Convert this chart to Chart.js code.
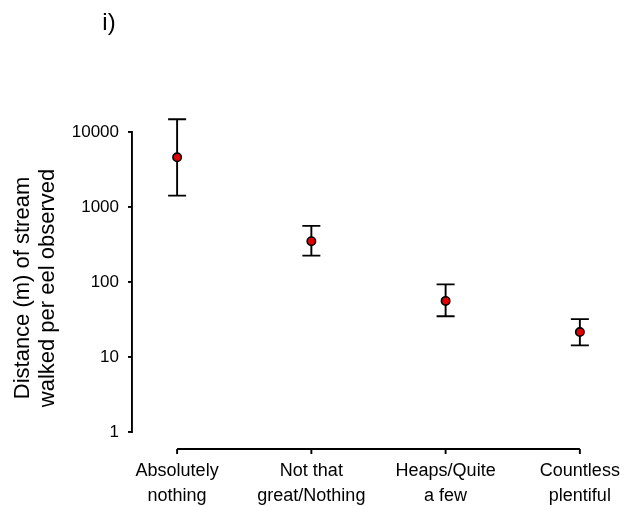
<!DOCTYPE html>
<html>
<head>
<meta charset="utf-8">
<script src="https://cdn.jsdelivr.net/npm/chart.js@4/dist/chart.umd.min.js"></script>
<style>
  html, body { margin: 0; padding: 0; background: #fff; }
  #wrap { width: 629px; height: 506px; position: relative; }
</style>
</head>
<body>
<div id="wrap"><canvas id="eelChart"></canvas></div>
<script>
// categories on the x axis (two-line labels)
const categories = [
    ['Absolutely', 'nothing'],
    ['Not that', 'great/Nothing'],
    ['Heaps/Quite', 'a few'],
    ['Countless', 'plentiful']
];
// distance walked per eel (m): mean with lower/upper error limits
const means = [4600, 350, 56, 21.5];
const lowerErr = [1420, 225, 35, 14.3];
const upperErr = [14800, 560, 93, 32];
const yTicks = [1, 10, 100, 1000, 10000];
const yTitle = ['Distance (m) of stream', 'walked per eel observed'];

const FONT = 'Liberation Sans, Arial, sans-serif';

// draws whisker bars through the scales before the points go on top
const errorBars = {
    id: 'errorBars',
    beforeDatasetsDraw(chart) {
        const { ctx, scales: { x, y } } = chart;
        ctx.save();
        ctx.strokeStyle = '#000';
        ctx.lineWidth = 1.9;
        means.forEach((m, i) => {
            const px = x.getPixelForValue(i + 1);
            const top = y.getPixelForValue(upperErr[i]);
            const bot = y.getPixelForValue(lowerErr[i]);
            ctx.beginPath();
            ctx.moveTo(px, top); ctx.lineTo(px, bot);
            ctx.moveTo(px - 9, top); ctx.lineTo(px + 9, top);
            ctx.moveTo(px - 9, bot); ctx.lineTo(px + 9, bot);
            ctx.stroke();
        });
        ctx.restore();
    }
};

// detached x axis line below the plot, panel label and y axis title
const extras = {
    id: 'extras',
    afterDraw(chart) {
        const { ctx, chartArea, scales: { x } } = chart;
        const yLine = chartArea.bottom + 17;
        const x0 = x.getPixelForValue(1);
        const x1 = x.getPixelForValue(categories.length);
        ctx.save();
        ctx.strokeStyle = '#000';
        ctx.lineWidth = 1.9;
        ctx.beginPath();
        ctx.moveTo(x0, yLine); ctx.lineTo(x1, yLine);
        categories.forEach((c, i) => {
            const px = x.getPixelForValue(i + 1);
            ctx.moveTo(px, yLine); ctx.lineTo(px, yLine + 5);
        });
        ctx.stroke();
        ctx.fillStyle = '#000';
        ctx.font = '24px ' + FONT;
        ctx.textAlign = 'center';
        ctx.textBaseline = 'middle';
        ctx.fillText('i)', 109, 23);

        ctx.translate(28.5, (chartArea.top + chartArea.bottom) / 2 + 6);
        ctx.rotate(-Math.PI / 2);
        ctx.font = '22px ' + FONT;
        ctx.textBaseline = 'alphabetic';
        yTitle.forEach((line, i) => ctx.fillText(line, 0, i * 25));
        ctx.restore();
    }
};

new Chart(document.getElementById('eelChart'), {
    type: 'scatter',
    data: {
        datasets: [{
            data: means.map((m, i) => ({ x: i + 1, y: m })),
            pointRadius: 4.2,
            pointBackgroundColor: '#e00000',
            pointBorderColor: '#000',
            pointBorderWidth: 1.6,
            clip: false
        }]
    },
    options: {
        responsive: true,
        maintainAspectRatio: false,
        animation: false,
        layout: { padding: { top: 132, right: 29, left: 0, bottom: 0 } },
        plugins: { legend: { display: false }, tooltip: { enabled: false } },
        scales: {
            x: {
                type: 'linear',
                min: 0.664,
                max: 4.15,
                afterBuildTicks: s => { s.ticks = categories.map((c, i) => ({ value: i + 1 })); },
                afterFit: s => { s.height = 74; s.paddingLeft = 0; s.paddingRight = 0; },
                grid: { display: false, drawTicks: false },
                border: { display: false },
                ticks: {
                    padding: 26,
                    color: '#000',
                    font: { family: FONT, size: 18, lineHeight: 1.4 },
                    maxRotation: 0,
                    callback: v => categories[v - 1]
                }
            },
            y: {
                type: 'logarithmic',
                min: 1,
                max: 10000,
                afterBuildTicks: s => { s.ticks = yTicks.map(v => ({ value: v })); },
                afterFit: s => { s.width = 132; s.paddingTop = 0; s.paddingBottom = 0; },
                grid: { drawOnChartArea: false, tickLength: 4, color: '#000', lineWidth: 1.9 },
                border: { display: true, color: '#000', width: 1.9 },
                ticks: {
                    padding: 9,
                    color: '#000',
                    font: { family: FONT, size: 17 },
                    callback: v => String(v)
                },
                title: { display: false }
            }
        }
    },
    plugins: [errorBars, extras]
});
</script>
</body>
</html>
